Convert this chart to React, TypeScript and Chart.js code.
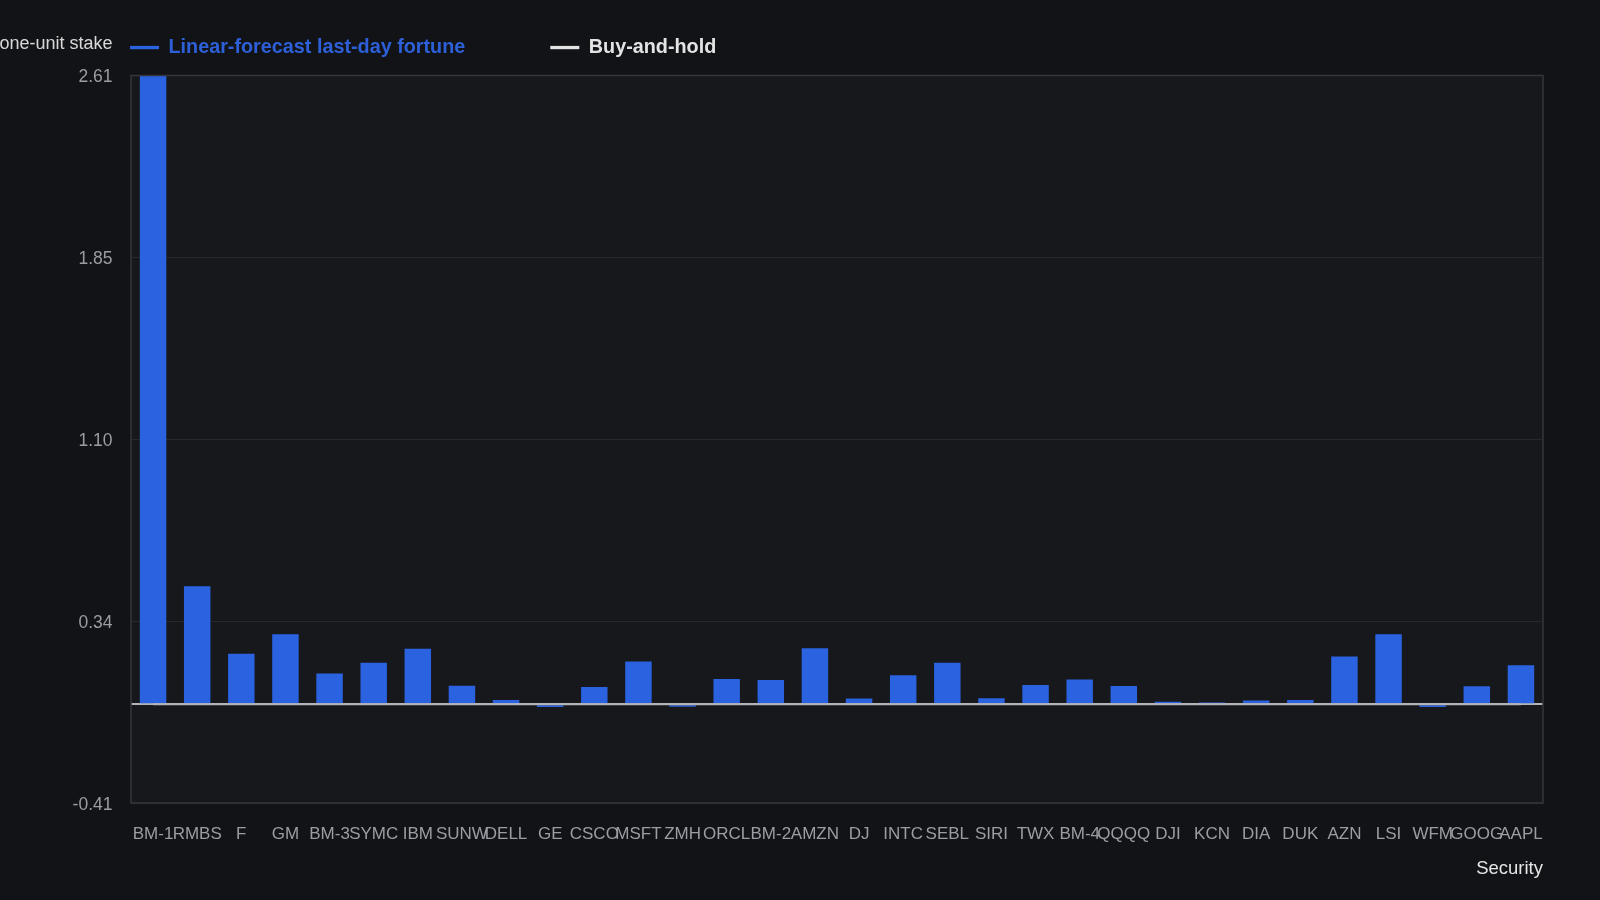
import React, { useEffect, useRef } from 'react';
import { Chart, registerables } from 'chart.js';

Chart.register(...registerables);

// categories and series values
const securities = [
    'BM-1', 'RMBS', 'F', 'GM', 'BM-3', 'SYMC', 'IBM', 'SUNW', 'DELL', 'GE', 'CSCO',
    'MSFT', 'ZMH', 'ORCL', 'BM-2', 'AMZN', 'DJ', 'INTC', 'SEBL', 'SIRI', 'TWX',
    'BM-4', 'QQQQ', 'DJI', 'KCN', 'DIA', 'DUK', 'AZN', 'LSI', 'WFM', 'GOOG', 'AAPL',
];
const forecastFortune = [
    2.61, 0.49, 0.21, 0.29, 0.128, 0.172, 0.23, 0.077, 0.018, -0.012, 0.072,
    0.177, -0.01, 0.105, 0.101, 0.232, 0.024, 0.12, 0.172, 0.025, 0.08,
    0.103, 0.076, 0.01, 0.007, 0.016, 0.018, 0.198, 0.29, -0.012, 0.075, 0.162,
];
// buy-and-hold sits on the zero level for every security
const buyAndHold = [
    0, 0, 0, 0, 0, 0, 0, 0, 0, 0, 0,
    0, 0, 0, 0, 0, 0, 0, 0, 0, 0,
    0, 0, 0, 0, 0, 0, 0, 0, 0, 0, 0,
];
const buyAndHoldLevel = 0;

const yTickValues = [-0.41, 0, 0.345, 1.1, 1.855, 2.61];
const yTickLabels = ['-0.41', '', '0.34', '1.10', '1.85', '2.61'];

const seriesNames = ['Linear-forecast last-day fortune', 'Buy-and-hold'];
const yAxisTitle = 'Fortune per one-unit stake';
const xAxisTitle = 'Security';

const FONT = '"Liberation Sans", Arial, Helvetica, sans-serif';
const BLUE = '#2a62e0';
const HOLD = '#b4b5b8';

const backgroundPlugin = {
    id: 'plotBackground',
    beforeDraw(chart: any) {
        const { ctx, chartArea, width, height } = chart;
        ctx.save();
        ctx.fillStyle = '#121317';
        ctx.fillRect(0, 0, width, height);
        ctx.fillStyle = '#17181c';
        ctx.fillRect(chartArea.left, chartArea.top, chartArea.right - chartArea.left, chartArea.bottom - chartArea.top);
        ctx.restore();
    },
    afterDraw(chart: any) {
        const { ctx, chartArea } = chart;
        ctx.save();
        ctx.strokeStyle = '#34363a';
        ctx.lineWidth = 1.5;
        ctx.strokeRect(chartArea.left, chartArea.top, chartArea.right - chartArea.left, chartArea.bottom - chartArea.top);

        // legend row
        const y = 47.5;
        let x = chartArea.left - 1;
        ctx.font = `bold 19.8px ${FONT}`;
        ctx.textBaseline = 'middle';
        ctx.textAlign = 'left';
        chart.data.datasets.forEach((ds: any) => {
            ctx.fillStyle = ds.legendColor;
            ctx.fillRect(x, y - 1.6, 29, 3.3);
            x += 29 + 9.5;
            ctx.fillStyle = ds.legendTextColor;
            ctx.fillText(ds.label, x, y);
            x += ctx.measureText(ds.label).width + 85;
        });

        // y axis title, sitting left of the legend
        ctx.font = `18px ${FONT}`;
        ctx.textAlign = 'right';
        ctx.fillStyle = '#d9d9d9';
        ctx.fillText(yAxisTitle, chart.scales.y.right - 18.5, 44.5);
        ctx.restore();
    },
};

const App = () => {
    const canvasRef = useRef<HTMLCanvasElement | null>(null);

    useEffect(() => {
        const canvas = canvasRef.current;
        if (!canvas) return;
        const ctx = canvas.getContext('2d');
        if (!ctx) return;

        const chart = new Chart(ctx, {
            type: 'bar',
            data: {
                labels: securities,
                datasets: [
                    {
                        type: 'bar',
                        label: seriesNames[0],
                        data: forecastFortune,
                        backgroundColor: BLUE,
                        barPercentage: 0.6,
                        categoryPercentage: 1,
                        order: 1,
                        legendColor: BLUE,
                        legendTextColor: '#2d60d8',
                    } as any,
                    {
                        type: 'line',
                        label: seriesNames[1],
                        data: buyAndHold,
                        borderColor: HOLD,
                        borderWidth: 2,
                        pointRadius: 0,
                        order: 0,
                        legendColor: '#e4e4e4',
                        legendTextColor: '#e4e4e4',
                    } as any,
                ],
            },
            options: {
                responsive: false,
                animation: false,
                devicePixelRatio: 1,
                layout: { padding: { top: 75.5, right: 57, bottom: 0, left: 0 } },
                plugins: {
                    legend: { display: false },
                    tooltip: { enabled: false },
                },
                scales: {
                    x: {
                        type: 'category',
                        offset: true,
                        grid: { display: false, drawTicks: false },
                        border: { display: false },
                        ticks: {
                            color: '#9a9da3',
                            font: { family: FONT, size: 17 },
                            padding: 21,
                            autoSkip: false,
                            maxRotation: 0,
                            minRotation: 0,
                        },
                        title: {
                            display: true,
                            text: xAxisTitle,
                            align: 'end',
                            color: '#e6e6e6',
                            font: { family: FONT, size: 18.5 },
                            padding: { top: 0, bottom: 20 },
                        },
                        afterFit: (scale: any) => { scale.height = 97; },
                    },
                    y: {
                        min: -0.41,
                        max: 2.61,
                        afterBuildTicks: (scale: any) => {
                            scale.ticks = yTickValues.map(v => ({ value: v }));
                        },
                        ticks: {
                            callback: (_v: any, i: number) => yTickLabels[i],
                            color: '#9a9da3',
                            font: { family: FONT, size: 17.5 },
                            padding: 18.5,
                            labelOffset: 2,
                        },
                        grid: {
                            color: (c: any) => (c.tick && c.tick.value === buyAndHoldLevel ? HOLD : '#26282c'),
                            lineWidth: (c: any) => (c.tick && c.tick.value === buyAndHoldLevel ? 2 : 1),
                            drawTicks: false,
                        },
                        border: { display: false },
                        afterFit: (scale: any) => { scale.width = 131; },
                    },
                },
            } as any,
            plugins: [backgroundPlugin],
        });

        return () => chart.destroy();
    }, []);

    return (
        <div style={{ position: 'fixed', left: 0, top: 0, width: 1600, height: 900, background: '#121317' }}>
            <canvas ref={canvasRef} width={1600} height={900} style={{ display: 'block' }} />
        </div>
    );
};

export default App;
